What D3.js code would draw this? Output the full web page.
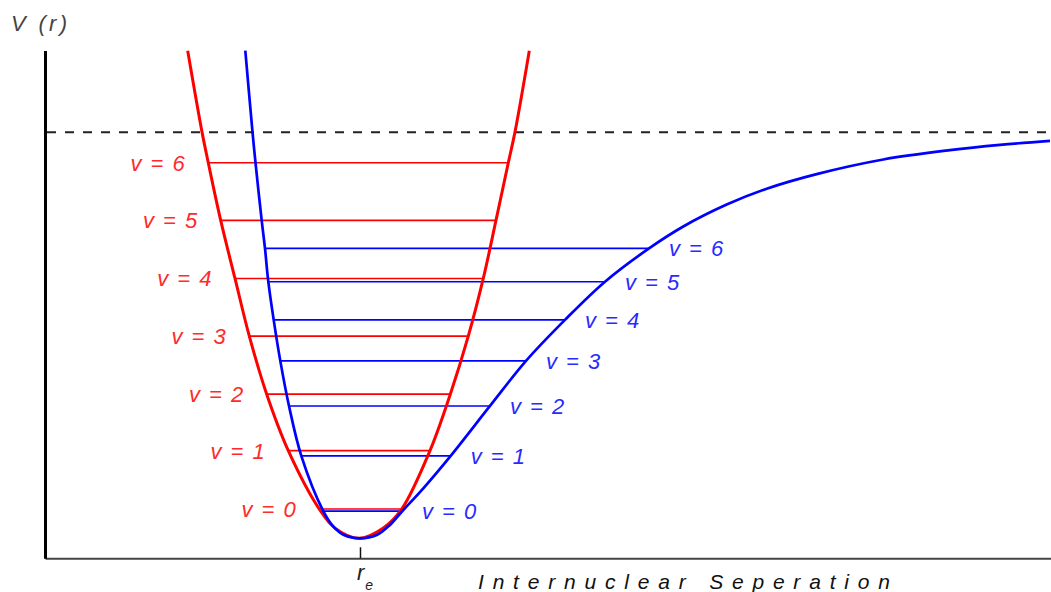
<!DOCTYPE html>
<html>
<head>
<meta charset="utf-8">
<script src="https://cdn.jsdelivr.net/npm/d3@7"></script>
<style>
  html, body { margin: 0; padding: 0; background: #fff; }
  svg { display: block; }
</style>
</head>
<body>
<svg id="chart" width="1051" height="592"></svg>
<script>
// ---------- data (r in units of r_e, V in units where D = 100) ----------
const rEq = 1.0;
const dissociation = 100;

// Harmonic potential (red)
const harmonicR = [0.4530, 0.4984, 0.5184, 0.5578, 0.6032, 0.6486, 0.7038, 0.7724, 0.8708, 0.9206, 0.9968,
                   1.0730, 1.1324, 1.2222, 1.2867, 1.3438, 1.3914, 1.4317, 1.4708, 1.4921, 1.5375];
const harmonicV = [120.1, 100.1, 92.5, 78.3, 64.0, 49.8, 35.5, 21.6, 7.2, 2.5, 0,
                   2.5, 7.2, 21.6, 35.5, 49.8, 64.0, 78.3, 92.5, 100.1, 120.1];

// Morse potential (blue)
const morseR = [0.6359, 0.6587, 0.6683, 0.6879, 0.6984, 0.7089, 0.7260, 0.7470, 0.7746, 0.8137, 0.8835, 0.9143, 0.9492, 1.0,
                1.0530, 1.0952, 1.1333, 1.2010, 1.2879, 1.4127, 1.5270, 1.6508, 1.7778, 1.9175, 2.0263, 2.1641,
                2.2911, 2.4498, 2.6613, 2.8730, 3.0317, 3.1905];
const morseV = [120.1, 100.1, 92.5, 78.3, 71.4, 63.2, 53.8, 43.7, 32.6, 20.3, 6.7, 3.0, 0.8, 0,
                0.8, 3.3, 6.6, 12.3, 20.3, 32.6, 43.7, 53.8, 63.2, 71.4, 76.8, 82.2,
                86.1, 89.7, 93.3, 95.6, 96.9, 97.9];

// Vibrational levels
const levelNames = ["v = 0", "v = 1", "v = 2", "v = 3", "v = 4", "v = 5", "v = 6"];
const harmonicLevelV = [7.2, 21.6, 35.5, 49.8, 64.0, 78.3, 92.5];
const harmonicLevelLeft = [0.8708, 0.7724, 0.7038, 0.6486, 0.6032, 0.5578, 0.5184];
const harmonicLevelRight = [1.1324, 1.2222, 1.2867, 1.3438, 1.3914, 1.4317, 1.4708];
const morseLevelV = [6.7, 20.3, 32.6, 43.7, 53.8, 63.2, 71.4];
const morseLevelLeft = [0.8835, 0.8137, 0.7746, 0.7470, 0.7260, 0.7089, 0.6984];
const morseLevelRight = [1.1333, 1.2879, 1.4127, 1.5270, 1.6508, 1.7778, 1.9175];

const yAxisTitle = "V (r)";
const xAxisTitle = "Internuclear Seperation";

// ---------- drawing ----------
const svg = d3.select("#chart");
const x = d3.scaleLinear().domain([0, 3.1937]).range([45, 1051]);
const y = d3.scaleLinear().domain([-4.93, 120.15]).range([558.3, 50.5]);

const RED = "#ff0000", BLUE = "#0000ff";
const RED_TXT = "#ff2a2a", BLUE_TXT = "#2a2aff";

// dissociation dashed line
svg.append("line")
  .attr("x1", x(0) + 2).attr("x2", x(3.1937))
  .attr("y1", y(dissociation)).attr("y2", y(dissociation))
  .attr("stroke", "#222").attr("stroke-width", 2)
  .attr("stroke-dasharray", "9,9");

// level lines
const lvlH = levelNames.map((n, i) => ({ n, v: harmonicLevelV[i], l: harmonicLevelLeft[i], r: harmonicLevelRight[i] }));
const lvlM = levelNames.map((n, i) => ({ n, v: morseLevelV[i], l: morseLevelLeft[i], r: morseLevelRight[i] }));

svg.append("g").selectAll("line").data(lvlM).join("line")
  .attr("x1", d => x(d.l)).attr("x2", d => x(d.r))
  .attr("y1", d => y(d.v)).attr("y2", d => y(d.v))
  .attr("stroke", BLUE).attr("stroke-width", 1.6);
svg.append("g").selectAll("line").data(lvlH).join("line")
  .attr("x1", d => x(d.l)).attr("x2", d => x(d.r))
  .attr("y1", d => y(d.v)).attr("y2", d => y(d.v))
  .attr("stroke", RED).attr("stroke-width", 1.6);

// curves
const line = d3.line().x(d => x(d[0])).y(d => y(d[1])).curve(d3.curveCatmullRom.alpha(0.5));
svg.append("path").datum(harmonicR.map((r, i) => [r, harmonicV[i]]))
  .attr("d", line).attr("fill", "none").attr("stroke", RED).attr("stroke-width", 3);
svg.append("path").datum(morseR.map((r, i) => [r, morseV[i]]))
  .attr("d", line).attr("fill", "none").attr("stroke", BLUE).attr("stroke-width", 2.7);

// labels
const labelFont = "'Liberation Sans', Arial, sans-serif";
svg.append("g").selectAll("text").data(lvlH).join("text")
  .attr("x", d => x(d.l) - 22).attr("y", d => y(d.v)).attr("dy", "0.36em")
  .attr("text-anchor", "end")
  .attr("font-family", labelFont).attr("font-style", "italic").attr("font-size", 22)
  .attr("letter-spacing", 1.5)
  .attr("fill", RED_TXT).text(d => d.n);
svg.append("g").selectAll("text").data(lvlM).join("text")
  .attr("x", d => x(d.r) + 20).attr("y", d => y(d.v)).attr("dy", "0.36em")
  .attr("text-anchor", "start")
  .attr("font-family", labelFont).attr("font-style", "italic").attr("font-size", 22)
  .attr("letter-spacing", 1.5)
  .attr("fill", BLUE_TXT).text(d => d.n);

// axes
const xAxis = d3.axisBottom(x).tickValues([rEq]).tickSize(-11).tickSizeOuter(0).tickFormat("");
const gx = svg.append("g").attr("transform", `translate(0,${y.range()[0]})`).call(xAxis);
gx.select(".domain").attr("stroke", "#444").attr("stroke-width", 2);
gx.selectAll(".tick line").attr("stroke", "#111").attr("stroke-width", 1.5);

const yAxis = d3.axisLeft(y).tickValues([]).tickSizeOuter(0);
const gy = svg.append("g").attr("transform", `translate(${x(0)},0)`).call(yAxis);
gy.select(".domain").attr("stroke", "#000").attr("stroke-width", 3);

// r_e label
const re = svg.append("text")
  .attr("x", x(rEq) - 3).attr("y", 580)
  .attr("font-family", labelFont).attr("font-style", "italic").attr("font-size", 22)
  .attr("fill", "#222");
re.append("tspan").text("r");
re.append("tspan").attr("dx", 1).attr("dy", 10).attr("font-size", 14).text("e");

// axis titles
svg.append("text")
  .attr("x", 11).attr("y", 31)
  .attr("font-family", labelFont).attr("font-style", "italic").attr("font-size", 22)
  .attr("letter-spacing", 3.3)
  .attr("fill", "#444").text(yAxisTitle);

svg.append("text")
  .attr("x", 478).attr("y", 588.5)
  .attr("font-family", labelFont).attr("font-style", "italic").attr("font-size", 21)
  .attr("letter-spacing", 8.8)
  .attr("fill", "#111").text(xAxisTitle);
</script>
</body>
</html>
